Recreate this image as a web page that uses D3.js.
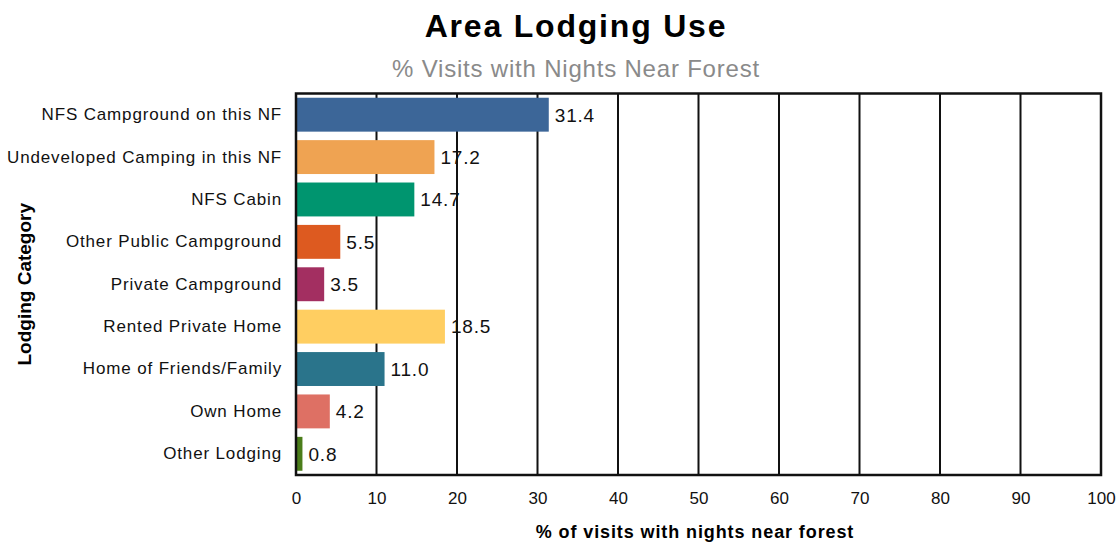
<!DOCTYPE html>
<html>
<head>
<meta charset="utf-8">
<script src="https://cdn.jsdelivr.net/npm/d3@7"></script>
<style>
  body { margin: 0; background: #fff; }
  text { font-family: "Liberation Sans", Arial, sans-serif; }
</style>
</head>
<body>
<div id="chart"></div>
<script>
// chart data
var categories = [
  "NFS Campground on this NF",
  "Undeveloped Camping in this NF",
  "NFS Cabin",
  "Other Public Campground",
  "Private Campground",
  "Rented Private Home",
  "Home of Friends/Family",
  "Own Home",
  "Other Lodging"
];
var values = [31.4, 17.2, 14.7, 5.5, 3.5, 18.5, 11.0, 4.2, 0.8];
var xTicks = [0, 10, 20, 30, 40, 50, 60, 70, 80, 90, 100];

var palette = ["#3c6698", "#efa352", "#00956f", "#dd5a20", "#a32f61",
               "#ffce61", "#2a748b", "#de7064", "#4b7d1a"];

var svgWidth = 1118;
var svgHeight = 543;

var plot = { left: 296, right: 1101, top: 93.5, bottom: 475 };

var svg = d3.select("#chart")
  .append("svg")
  .attr("width", svgWidth)
  .attr("height", svgHeight);

var data = categories.map(function(c, i) {
  return { cat: c, value: values[i], color: palette[i] };
});

var x = d3.scaleLinear().domain([0, 100]).range([plot.left, plot.right]);
var y = d3.scaleBand()
  .domain(categories)
  .range([plot.top, plot.bottom])
  .paddingInner(0.2)
  .paddingOuter(0.1);

// titles
svg.append("text")
  .attr("x", 576)
  .attr("y", 37)
  .attr("text-anchor", "middle")
  .style("font-size", "32px")
  .style("font-weight", "bold")
  .style("letter-spacing", "1.8px")
  .text("Area Lodging Use");

svg.append("text")
  .attr("x", 576)
  .attr("y", 77)
  .attr("text-anchor", "middle")
  .style("font-size", "24px")
  .style("letter-spacing", "0.8px")
  .attr("fill", "#8a8a8a")
  .text("% Visits with Nights Near Forest");

// value labels (drawn under the grid lines like the original)
svg.append("g")
  .selectAll("text")
  .data(data)
  .enter()
  .append("text")
  .attr("x", d => x(d.value) + 6)
  .attr("y", d => y(d.cat) + y.bandwidth() / 2)
  .attr("dy", "0.36em")
  .style("font-size", "19px")
  .style("letter-spacing", "0.8px")
  .attr("fill", "#111")
  .text(d => d3.format(".1f")(d.value));

// vertical grid lines
svg.append("g")
  .selectAll("line")
  .data(xTicks)
  .enter()
  .append("line")
  .attr("x1", d => x(d))
  .attr("x2", d => x(d))
  .attr("y1", plot.top)
  .attr("y2", plot.bottom)
  .attr("stroke", "#111")
  .attr("stroke-width", 2);

// bars
svg.append("g")
  .selectAll("rect")
  .data(data)
  .enter()
  .append("rect")
  .attr("x", x(0))
  .attr("y", d => y(d.cat))
  .attr("width", d => x(d.value) - x(0))
  .attr("height", y.bandwidth())
  .attr("fill", d => d.color);

// frame
svg.append("rect")
  .attr("x", plot.left)
  .attr("y", plot.top)
  .attr("width", plot.right - plot.left)
  .attr("height", plot.bottom - plot.top)
  .attr("fill", "none")
  .attr("stroke", "#111")
  .attr("stroke-width", 2.5);

// x axis tick labels
var bottomAxis = d3.axisBottom(x).tickValues(xTicks).tickSize(0).tickPadding(17);
var xAxisG = svg.append("g")
  .attr("transform", `translate(0, ${plot.bottom})`)
  .call(bottomAxis);
xAxisG.select(".domain").remove();
xAxisG.selectAll("text")
  .style("font-size", "17px")
  .style("font-family", "'Liberation Sans', Arial, sans-serif")
  .attr("fill", "#111");

// y axis labels
var leftAxis = d3.axisLeft(y).tickSize(0).tickPadding(14);
var yAxisG = svg.append("g")
  .attr("transform", `translate(${plot.left}, 0)`)
  .call(leftAxis);
yAxisG.select(".domain").remove();
yAxisG.selectAll("text")
  .style("font-size", "17px")
  .style("letter-spacing", "0.85px")
  .style("font-family", "'Liberation Sans', Arial, sans-serif")
  .attr("fill", "#111");

// axis titles
svg.append("text")
  .attr("x", 695)
  .attr("y", 538)
  .attr("text-anchor", "middle")
  .style("font-size", "18px")
  .style("font-weight", "bold")
  .style("letter-spacing", "0.9px")
  .text("% of visits with nights near forest");

svg.append("text")
  .attr("transform", `translate(31, ${(plot.top + plot.bottom) / 2}) rotate(-90)`)
  .attr("text-anchor", "middle")
  .style("font-size", "19px")
  .style("font-weight", "bold")
  .text("Lodging Category");
</script>
</body>
</html>
